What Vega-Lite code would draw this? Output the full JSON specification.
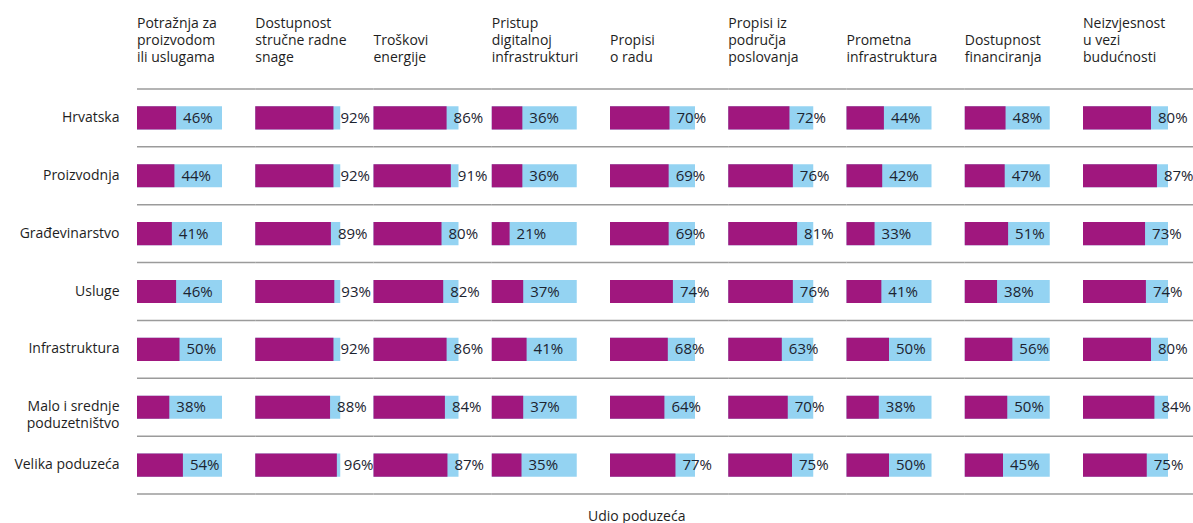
{
  "$schema": "https://vega.github.io/schema/vega-lite/v6.json",
  "padding": {"left": 13, "top": 17, "right": 0, "bottom": 0},
  "bounds": "flush",
  "title": {"text": "Udio poduzeća", "orient": "bottom", "anchor": "start", "frame": "group", "dx": 451, "offset": 15, "font": "Open Sans", "fontSize": 14, "fontWeight": "normal", "color": "#1e1e1e"},
  "config": {"view": {"stroke": null}, "font": "Open Sans", "text": {"font": "Open Sans"}},
  "data": {"values": [
    {"group": "Hrvatska", "factor": "Potražnja za|proizvodom|ili uslugama", "value": 0.46},
    {"group": "Hrvatska", "factor": "Dostupnost|stručne radne|snage", "value": 0.92},
    {"group": "Hrvatska", "factor": "Troškovi|energije", "value": 0.86},
    {"group": "Hrvatska", "factor": "Pristup|digitalnoj|infrastrukturi", "value": 0.36},
    {"group": "Hrvatska", "factor": "Propisi|o radu", "value": 0.70},
    {"group": "Hrvatska", "factor": "Propisi iz|područja|poslovanja", "value": 0.72},
    {"group": "Hrvatska", "factor": "Prometna|infrastruktura", "value": 0.44},
    {"group": "Hrvatska", "factor": "Dostupnost|financiranja", "value": 0.48},
    {"group": "Hrvatska", "factor": "Neizvjesnost|u vezi|budućnosti", "value": 0.80},
    {"group": "Proizvodnja", "factor": "Potražnja za|proizvodom|ili uslugama", "value": 0.44},
    {"group": "Proizvodnja", "factor": "Dostupnost|stručne radne|snage", "value": 0.92},
    {"group": "Proizvodnja", "factor": "Troškovi|energije", "value": 0.91},
    {"group": "Proizvodnja", "factor": "Pristup|digitalnoj|infrastrukturi", "value": 0.36},
    {"group": "Proizvodnja", "factor": "Propisi|o radu", "value": 0.69},
    {"group": "Proizvodnja", "factor": "Propisi iz|područja|poslovanja", "value": 0.76},
    {"group": "Proizvodnja", "factor": "Prometna|infrastruktura", "value": 0.42},
    {"group": "Proizvodnja", "factor": "Dostupnost|financiranja", "value": 0.47},
    {"group": "Proizvodnja", "factor": "Neizvjesnost|u vezi|budućnosti", "value": 0.87},
    {"group": "Građevinarstvo", "factor": "Potražnja za|proizvodom|ili uslugama", "value": 0.41},
    {"group": "Građevinarstvo", "factor": "Dostupnost|stručne radne|snage", "value": 0.89},
    {"group": "Građevinarstvo", "factor": "Troškovi|energije", "value": 0.80},
    {"group": "Građevinarstvo", "factor": "Pristup|digitalnoj|infrastrukturi", "value": 0.21},
    {"group": "Građevinarstvo", "factor": "Propisi|o radu", "value": 0.69},
    {"group": "Građevinarstvo", "factor": "Propisi iz|područja|poslovanja", "value": 0.81},
    {"group": "Građevinarstvo", "factor": "Prometna|infrastruktura", "value": 0.33},
    {"group": "Građevinarstvo", "factor": "Dostupnost|financiranja", "value": 0.51},
    {"group": "Građevinarstvo", "factor": "Neizvjesnost|u vezi|budućnosti", "value": 0.73},
    {"group": "Usluge", "factor": "Potražnja za|proizvodom|ili uslugama", "value": 0.46},
    {"group": "Usluge", "factor": "Dostupnost|stručne radne|snage", "value": 0.93},
    {"group": "Usluge", "factor": "Troškovi|energije", "value": 0.82},
    {"group": "Usluge", "factor": "Pristup|digitalnoj|infrastrukturi", "value": 0.37},
    {"group": "Usluge", "factor": "Propisi|o radu", "value": 0.74},
    {"group": "Usluge", "factor": "Propisi iz|područja|poslovanja", "value": 0.76},
    {"group": "Usluge", "factor": "Prometna|infrastruktura", "value": 0.41},
    {"group": "Usluge", "factor": "Dostupnost|financiranja", "value": 0.38},
    {"group": "Usluge", "factor": "Neizvjesnost|u vezi|budućnosti", "value": 0.74},
    {"group": "Infrastruktura", "factor": "Potražnja za|proizvodom|ili uslugama", "value": 0.50},
    {"group": "Infrastruktura", "factor": "Dostupnost|stručne radne|snage", "value": 0.92},
    {"group": "Infrastruktura", "factor": "Troškovi|energije", "value": 0.86},
    {"group": "Infrastruktura", "factor": "Pristup|digitalnoj|infrastrukturi", "value": 0.41},
    {"group": "Infrastruktura", "factor": "Propisi|o radu", "value": 0.68},
    {"group": "Infrastruktura", "factor": "Propisi iz|područja|poslovanja", "value": 0.63},
    {"group": "Infrastruktura", "factor": "Prometna|infrastruktura", "value": 0.50},
    {"group": "Infrastruktura", "factor": "Dostupnost|financiranja", "value": 0.56},
    {"group": "Infrastruktura", "factor": "Neizvjesnost|u vezi|budućnosti", "value": 0.80},
    {"group": "Malo i srednje|poduzetništvo", "factor": "Potražnja za|proizvodom|ili uslugama", "value": 0.38},
    {"group": "Malo i srednje|poduzetništvo", "factor": "Dostupnost|stručne radne|snage", "value": 0.88},
    {"group": "Malo i srednje|poduzetništvo", "factor": "Troškovi|energije", "value": 0.84},
    {"group": "Malo i srednje|poduzetništvo", "factor": "Pristup|digitalnoj|infrastrukturi", "value": 0.37},
    {"group": "Malo i srednje|poduzetništvo", "factor": "Propisi|o radu", "value": 0.64},
    {"group": "Malo i srednje|poduzetništvo", "factor": "Propisi iz|područja|poslovanja", "value": 0.70},
    {"group": "Malo i srednje|poduzetništvo", "factor": "Prometna|infrastruktura", "value": 0.38},
    {"group": "Malo i srednje|poduzetništvo", "factor": "Dostupnost|financiranja", "value": 0.50},
    {"group": "Malo i srednje|poduzetništvo", "factor": "Neizvjesnost|u vezi|budućnosti", "value": 0.84},
    {"group": "Velika poduzeća", "factor": "Potražnja za|proizvodom|ili uslugama", "value": 0.54},
    {"group": "Velika poduzeća", "factor": "Dostupnost|stručne radne|snage", "value": 0.96},
    {"group": "Velika poduzeća", "factor": "Troškovi|energije", "value": 0.87},
    {"group": "Velika poduzeća", "factor": "Pristup|digitalnoj|infrastrukturi", "value": 0.35},
    {"group": "Velika poduzeća", "factor": "Propisi|o radu", "value": 0.77},
    {"group": "Velika poduzeća", "factor": "Propisi iz|područja|poslovanja", "value": 0.75},
    {"group": "Velika poduzeća", "factor": "Prometna|infrastruktura", "value": 0.50},
    {"group": "Velika poduzeća", "factor": "Dostupnost|financiranja", "value": 0.45},
    {"group": "Velika poduzeća", "factor": "Neizvjesnost|u vezi|budućnosti", "value": 0.75}
  ]},
  "facet": {
    "column": {
      "field": "factor",
      "type": "nominal",
      "sort": ["Potražnja za|proizvodom|ili uslugama", "Dostupnost|stručne radne|snage", "Troškovi|energije", "Pristup|digitalnoj|infrastrukturi", "Propisi|o radu", "Propisi iz|područja|poslovanja", "Prometna|infrastruktura", "Dostupnost|financiranja", "Neizvjesnost|u vezi|budućnosti"],
      "title": null,
      "header": {
        "labelExpr": "split(datum.value, '|')",
        "labelOrient": "top",
        "labelAlign": "left",
        "labelAnchor": "start",
        "labelBaseline": "top",
        "labelFont": "Open Sans",
        "labelFontSize": 14,
        "labelLineHeight": 17,
        "labelColor": "#1e1e1e",
        "labelPadding": 24
      }
    }
  },
  "spacing": {"column": 33.25},
  "spec": {
    "width": 85,
    "height": 405,
    "encoding": {
      "y": {
        "field": "group",
        "type": "nominal",
        "sort": ["Hrvatska", "Proizvodnja", "Građevinarstvo", "Usluge", "Infrastruktura", "Malo i srednje|poduzetništvo", "Velika poduzeća"],
        "scale": {"paddingInner": 0, "paddingOuter": 0},
        "axis": {
          "title": null,
          "domain": false,
          "ticks": false,
          "grid": false,
          "labelExpr": "split(datum.value, '|')",
          "labelFont": "Open Sans",
          "labelFontSize": 14,
          "labelLineHeight": 17,
          "labelColor": "#1e1e1e",
          "labelPadding": 18
        }
      }
    },
    "layer": [
      {
        "mark": {"type": "bar", "color": "#94d3f2", "height": {"band": 0.4}},
        "encoding": {
          "x": {"datum": 1, "type": "quantitative", "scale": {"domain": [0, 1]}, "axis": null}
        }
      },
      {
        "mark": {"type": "bar", "color": "#a0177e", "height": {"band": 0.4}},
        "encoding": {
          "x": {"field": "value", "type": "quantitative"}
        }
      },
      {
        "mark": {"type": "text", "align": "left", "baseline": "middle", "dx": 7, "fontSize": 15, "color": "#1c2330", "font": "Open Sans"},
        "encoding": {
          "x": {"field": "value", "type": "quantitative"},
          "text": {"field": "value", "type": "quantitative", "format": ".0%"}
        }
      },
      {
        "mark": {"type": "rule", "color": "#9b9b9b", "strokeWidth": 1.5},
        "encoding": {
          "y": {"field": "group", "type": "nominal", "bandPosition": 0, "sort": ["Hrvatska", "Proizvodnja", "Građevinarstvo", "Usluge", "Infrastruktura", "Malo i srednje|poduzetništvo", "Velika poduzeća"]},
          "x": {"datum": 0, "type": "quantitative"},
          "x2": {"datum": 1.3912}
        }
      },
      {
        "transform": [{"filter": "datum.group === 'Velika poduzeća'"}],
        "mark": {"type": "rule", "color": "#9b9b9b", "strokeWidth": 1.5},
        "encoding": {
          "y": {"field": "group", "type": "nominal", "bandPosition": 1, "sort": ["Hrvatska", "Proizvodnja", "Građevinarstvo", "Usluge", "Infrastruktura", "Malo i srednje|poduzetništvo", "Velika poduzeća"]},
          "x": {"datum": 0, "type": "quantitative"},
          "x2": {"datum": 1.3912}
        }
      }
    ]
  }
}
